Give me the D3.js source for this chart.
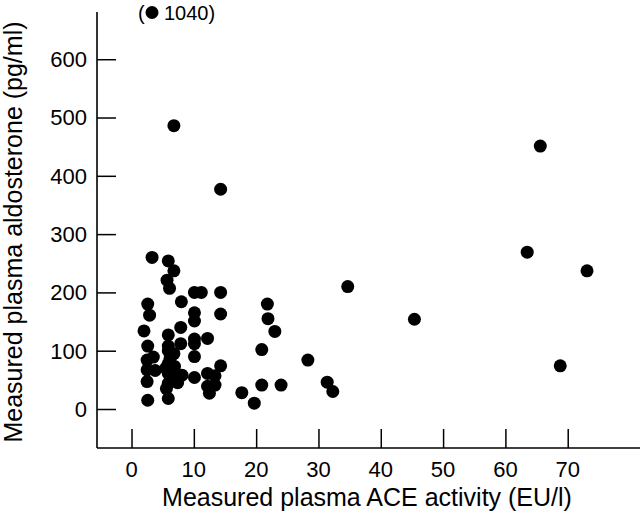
<!DOCTYPE html>
<html>
<head>
<meta charset="utf-8">
<script src="https://cdn.jsdelivr.net/npm/d3@7"></script>
<style>
  html, body { margin: 0; padding: 0; background: #fff; }
  svg { display: block; }
  text { font-family: "Liberation Sans", Arial, Helvetica, sans-serif; fill: #000; }
</style>
</head>
<body>
<svg id="chart" width="640" height="518"></svg>
<script>
// ---- data ----
const aceActivity = [
  3.3, 5.9, 6.8, 5.7, 6.1, 10.1, 11.2, 14.3, 8.0, 2.6,
  2.9, 10.1, 14.3, 10.1, 2.0, 7.9, 5.9, 12.2, 10.1, 2.6,
  5.9, 7.9, 10.1, 10.1, 3.5, 2.5, 6.2, 6.9, 14.3, 2.5,
  3.8, 5.9, 5.9, 8.1, 10.1, 12.2, 13.4, 2.5, 5.9, 7.4,
  12.2, 13.4, 12.5, 17.7, 2.6, 5.9, 19.7, 20.9, 28.3, 20.9,
  24.0, 31.4, 32.3, 21.9, 23.0, 21.8, 5.9, 6.8, 5.5, 6.6,
  5.6, 6.9,
  6.8, 14.3, 65.6, 63.5, 73.1, 34.7, 45.4, 68.8
];
const aldosterone = [
  260, 254, 237, 221, 207, 200, 200, 200, 184, 180,
  161, 165, 163, 151, 134, 140, 127, 121, 120, 108,
  108, 112, 112, 90, 89, 84, 87, 73, 74, 67,
  66, 78, 61, 58, 54, 61, 57, 47, 44, 45,
  39, 41, 27, 28, 15, 18, 10, 102, 84, 41,
  41, 46, 30, 155, 133, 180, 100, 95, 70, 55,
  35, 62,
  486, 377, 451, 269, 237, 210, 154, 74
];
const xTickValues = [0, 10, 20, 30, 40, 50, 60, 70];
const yTickValues = [0, 100, 200, 300, 400, 500, 600];
const xTitle = "Measured plasma ACE activity (EU/l)";
const yTitle = "Measured plasma aldosterone (pg/ml)";
const offScaleNote = "1040";

// ---- layout ----
const svg = d3.select("#chart");
const plotL = 97, plotR = 640, plotT = 12, plotB = 448;

const x = d3.scaleLinear().domain([-5.54, 81.6]).range([plotL, plotR]);
const y = d3.scaleLinear().domain([-66.9, 681]).range([plotB, plotT]);

// axes
const xAxis = d3.axisTop(x).tickValues(xTickValues).tickSize(19).tickFormat("");
const yAxis = d3.axisRight(y).tickValues(yTickValues).tickSize(19).tickFormat("");

const gx = svg.append("g").attr("transform", `translate(0,${plotB})`).call(xAxis);
const gy = svg.append("g").attr("transform", `translate(${plotL},0)`).call(yAxis);
[gx, gy].forEach(g => {
  g.select(".domain").remove();
  g.selectAll(".tick line").attr("stroke", "#000").attr("stroke-width", 1.5);
});
// axis lines
svg.append("line").attr("x1", plotL).attr("x2", plotR).attr("y1", plotB).attr("y2", plotB)
  .attr("stroke", "#000").attr("stroke-width", 1.6);
svg.append("line").attr("x1", plotL).attr("x2", plotL).attr("y1", plotT).attr("y2", plotB)
  .attr("stroke", "#000").attr("stroke-width", 1.6);

// tick labels
svg.append("g").selectAll("text").data(xTickValues).join("text")
  .attr("x", d => x(d)).attr("y", 477)
  .attr("text-anchor", "middle").attr("font-size", 22)
  .text(d => d);
svg.append("g").selectAll("text").data(yTickValues).join("text")
  .attr("x", 87).attr("y", d => y(d)).attr("dy", "0.36em")
  .attr("text-anchor", "end").attr("font-size", 22)
  .text(d => d);

// titles
svg.append("text").attr("x", 367).attr("y", 506)
  .attr("text-anchor", "middle").attr("font-size", 25).text(xTitle);
svg.append("text").attr("transform", "translate(22,232) rotate(-90)")
  .attr("text-anchor", "middle").attr("font-size", 25).text(yTitle);

// points
const pts = aceActivity.map((v, i) => ({ x: v, y: aldosterone[i] }));
svg.append("g").selectAll("circle").data(pts).join("circle")
  .attr("cx", d => x(d.x)).attr("cy", d => y(d.y)).attr("r", 6.5).attr("fill", "#000");

// off-scale annotation "(● 1040)"
const ann = svg.append("g");
ann.append("text").attr("x", 138).attr("y", 20).attr("font-size", 20).text("(");
ann.append("circle").attr("cx", 152).attr("cy", 12.5).attr("r", 6.5).attr("fill", "#000");
ann.append("text").attr("x", 164).attr("y", 20).attr("font-size", 20).text(offScaleNote + ")");
</script>
</body>
</html>
